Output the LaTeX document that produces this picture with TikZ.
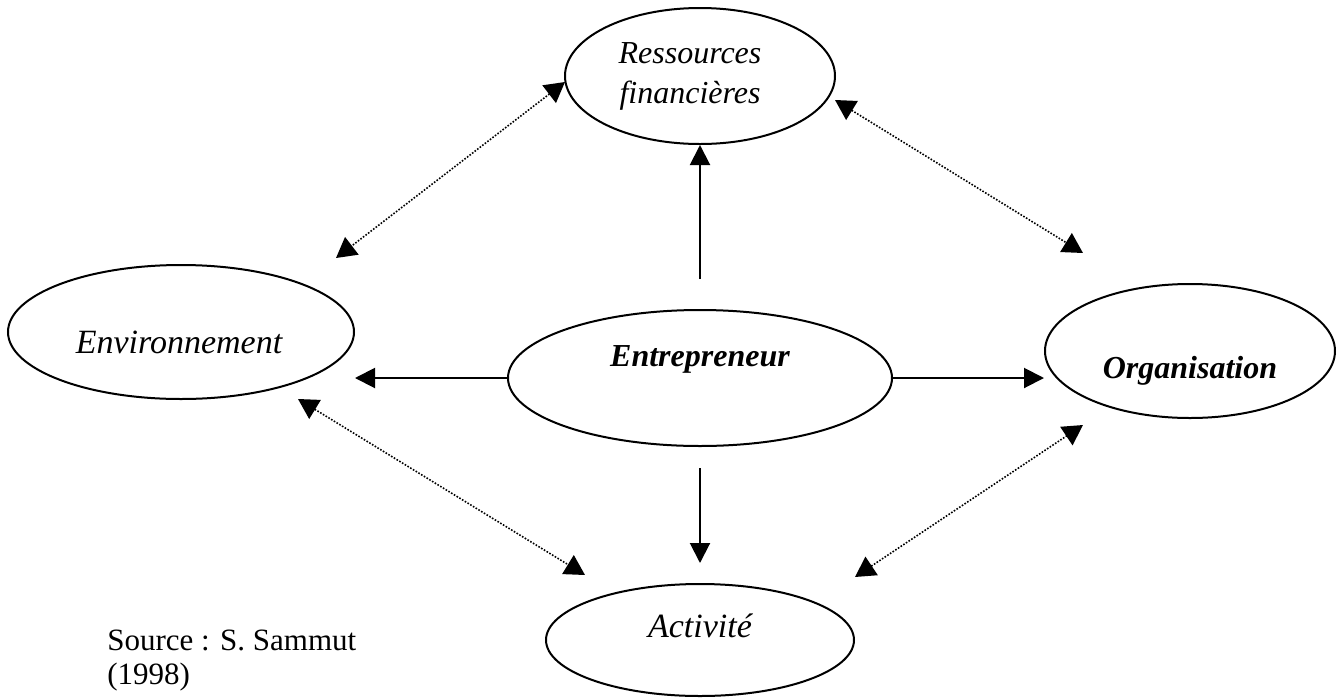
\documentclass[tikz,border=0pt]{standalone}
\usepackage{fontspec}
\setmainfont{Liberation Serif}
\usetikzlibrary{shapes.geometric,arrows.meta}

\begin{document}
\begin{tikzpicture}[x=0.5pt,y=-0.5pt,
    bulle/.style={ellipse,draw,line width=1pt,inner sep=0pt},
    texte/.style={font=\fontsize{16}{20}\selectfont\itshape,inner sep=0pt},
    large/.style={font=\fontsize{17}{20}\selectfont\itshape,inner sep=0pt},
    gras/.style={font=\fontsize{16}{20}\selectfont\bfseries\itshape,inner sep=0pt},
    fleche/.style={line width=1pt,-{Triangle[length=10pt,width=10pt]}},
    lien/.style={line width=0.8pt,dash pattern=on 0.8pt off 0.8pt,
        {Triangle[length=10pt,width=11pt]}-{Triangle[length=10pt,width=11pt]}}]
        \useasboundingbox (0,0) rectangle (1340,697);
        %% Ellipses
        \node[bulle,minimum width=192pt,minimum height=68pt,
            label={[gras,yshift=9.25pt]center:Entrepreneur}] (entrepreneur) at (700,378) {};
        \node[bulle,minimum width=135pt,minimum height=68pt,
            label={[texte,align=center,xshift=-5pt]center:Ressources\\financières}] (ressources) at (700,76) {};
        \node[bulle,minimum width=173pt,minimum height=67pt,
            label={[large,xshift=-1pt,yshift=-5pt]center:Environnement}] (environnement) at (181,332) {};
        \node[bulle,minimum width=145pt,minimum height=67pt,
            label={[gras,yshift=-9.75pt]center:Organisation}] (organisation) at (1190,351) {};
        \node[bulle,minimum width=154pt,minimum height=56pt,
            label={[large,yshift=7pt]center:Activité}] (activite) at (700,640) {};
        %% Source
        \node[anchor=base west,align=left,inner sep=0pt,
            font=\fontsize{15.5}{17}\selectfont] (source) at (107,684) {Source : S. Sammut\\(1998)};
        %% Arrows from the entrepreneur
        \draw[fleche] ([yshift=15pt]entrepreneur.north) -- (ressources.south);
        \draw[fleche] ([yshift=-10.5pt]entrepreneur.south) -- ([yshift=10pt]activite.north);
        \draw[fleche] (entrepreneur.west) -- (entrepreneur.west -| environnement.east);
        \draw[fleche] (entrepreneur.east) -- (entrepreneur.east -| organisation.west);
        %% Dotted links
        \coordinate (rf-g) at (565,82);
        \coordinate (env-h) at (336,258);
        \coordinate (rf-d) at (835,100);
        \coordinate (org-h) at (1083,253);
        \coordinate (env-b) at (298,399);
        \coordinate (act-g) at (585,575);
        \coordinate (act-d) at (855,577);
        \coordinate (org-b) at (1083,425);
        \draw[lien] (rf-g) -- (env-h);
        \draw[lien] (rf-d) -- (org-h);
        \draw[lien] (env-b) -- (act-g);
        \draw[lien] (act-d) -- (org-b);
    \end{tikzpicture}
\end{document}
